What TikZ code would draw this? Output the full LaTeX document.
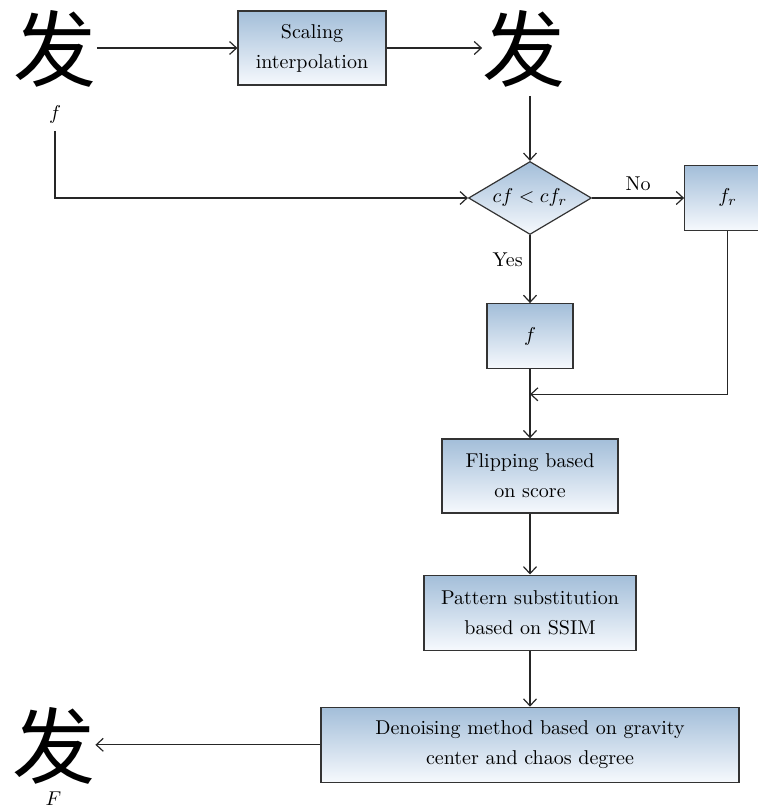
\documentclass[tikz,border=0pt]{standalone}
\usepackage{fontspec}
\newfontfamily\hanzifont{Noto Sans CJK SC}
\usetikzlibrary{positioning,shapes.geometric,arrows.meta}
\definecolor{boxblue}{RGB}{163,190,217}
\definecolor{boxwhite}{RGB}{246,249,253}

\begin{document}
\begin{tikzpicture}[node distance=30pt,
>={Straight Barb[length=3.5pt,width=6.5pt]},
proc/.style={
  draw=black!80,
  line width=0.6pt,
  top color=boxblue,
  bottom color=boxwhite,
  font={\fontsize{10pt}{15pt}\selectfont},
  align=center,
  inner sep=0pt},
small/.style={
  proc,
  minimum width=43pt,
  minimum height=32.5pt},
test/.style={
  proc,
  diamond,
  aspect=2,
  minimum width=61.5pt,
  minimum height=36.5pt},
hanzi/.style={
  font={\hanzifont\fontsize{41.5pt}{41.5pt}\selectfont},
  inner sep=0pt,
  text height=36pt,
  text depth=3.5pt},
flow/.style={
  ->,
  draw=black!85,
  line width=0.6pt},
]
\useasboundingbox (0,0) rectangle (378.5pt,-406pt);

\node[hanzi] (src) at (27.5pt,-24pt) {发};
\node[below=5.5pt of src] (srclbl) {$f$};
\node[proc,minimum width=74pt,minimum height=37pt] (scale) at (156pt,-24pt) {Scaling\\interpolation};
\node[hanzi] (scaled) at (262pt,-24pt) {发};

\node[test] (cmp) at (265pt,-99pt) {$cf < cf_r$};
\node[small,right=46pt of cmp] (fr) {$f_r$};
\node[small,below=34pt of cmp] (keep) {$f$};
\coordinate[below=12.5pt of keep] (join);

\node[proc,minimum width=88pt,minimum height=37pt,below=34.5pt of keep] (flip) {Flipping based\\on score};
\node[proc,minimum width=106pt,minimum height=37.5pt,below=30.5pt of flip] (subst) {Pattern substitution\\based on SSIM};
\node[proc,minimum width=209pt,minimum height=37.5pt,below=28pt of subst] (denoise) {Denoising method based on gravity\\center and chaos degree};

\node[hanzi,left=112.5pt of denoise] (out) {发};
\node[below=3pt of out,inner sep=0.5pt] (outlbl) {$F$};

\draw[flow] (src) -- (scale);
\draw[flow] (scale) -- (scaled);
\draw[flow,shorten <=4pt] (scaled.south -| cmp.north) -- (cmp);
\draw[flow] (srclbl) |- (cmp);
\draw[flow] (cmp) -- node[above] {No} (fr);
\draw[flow] (cmp) -- node[left,pos=0.37] {Yes} (keep);
\draw[flow] (keep) -- (flip);
\draw[flow] (fr) |- (join);
\draw[flow] (flip) -- (subst);
\draw[flow] (subst) -- (denoise);
\draw[flow] (denoise) -- (out);

\end{tikzpicture}
\end{document}
